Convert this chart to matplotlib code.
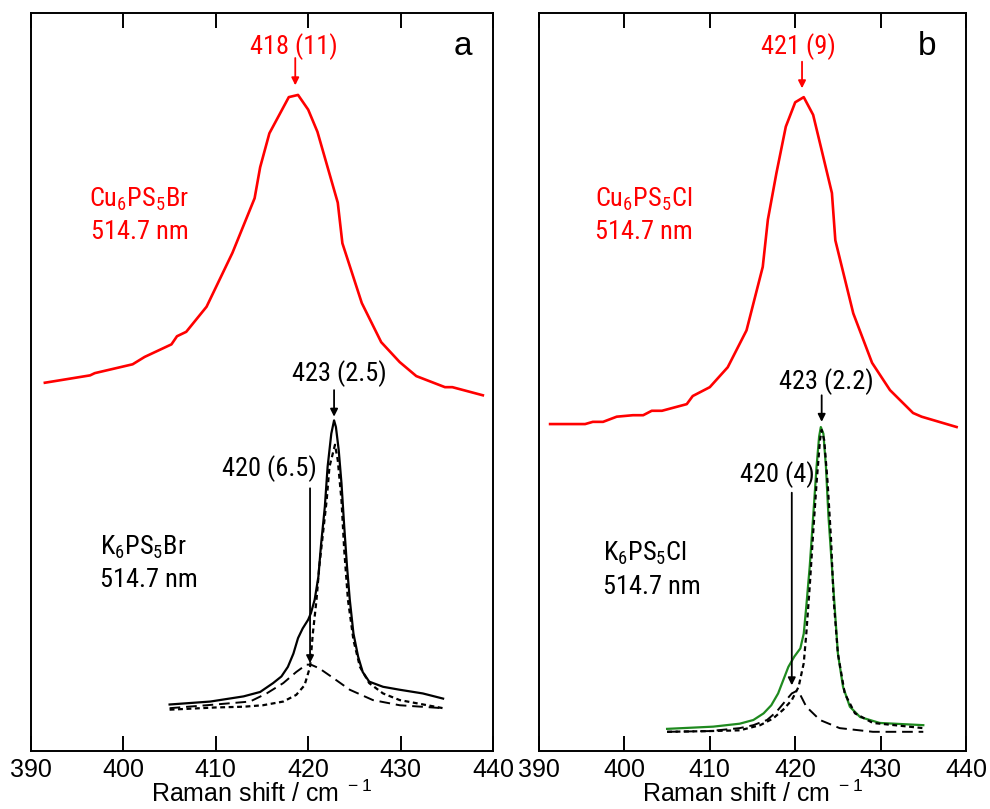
import numpy as np
import matplotlib
matplotlib.use("Agg")
import matplotlib.pyplot as plt
from matplotlib import font_manager

plt.rcParams['font.family'] = ['Liberation Sans', 'DejaVu Sans']
plt.rcParams['mathtext.default'] = 'regular'

# narrow face for the annotations if one is installed, else plain sans a bit smaller
installed = {f.name for f in font_manager.fontManager.ttflist}
narrow = ['Liberation Sans', 'DejaVu Sans']
fs = 17
for cand in ['Liberation Sans Narrow', 'Arial Narrow', 'Roboto Condensed', 'Open Sans Condensed']:
    if cand in installed:
        narrow = [cand, 'Liberation Sans', 'DejaVu Sans']
        fs = 19
        break

# ---- panel a : Cu6PS5Br (red) and K6PS5Br with two-band fit ----
cu_br_x = [391.5, 396.4, 396.9, 401.0, 402.3, 405.2, 405.8, 406.8, 409.0, 411.8, 414.2, 414.8, 415.8,
           417.9, 418.9, 420.0, 421.0, 423.2, 423.7, 425.8, 427.9, 429.9, 431.7, 434.8, 435.6, 438.9]
cu_br_y = [49.9, 50.9, 51.2, 52.4, 53.4, 55.1, 56.2, 56.8, 60.2, 67.5, 74.9, 79.1, 83.7,
           88.6, 88.9, 86.9, 83.9, 74.3, 68.8, 60.7, 55.4, 52.7, 50.8, 49.3, 49.3, 48.2]

k_br_x = [405.0, 409.4, 413.0, 414.8, 416.2, 417.1, 417.8, 418.4, 418.9, 419.4, 420.0, 420.3,
          420.7, 421.1, 421.4, 421.8, 422.1, 422.5, 422.8, 423.0, 423.3, 423.6, 423.9, 424.2,
          424.5, 424.9, 425.4, 425.9, 426.6, 428.1, 429.9, 432.4, 434.6]
k_br_y = [6.3, 6.7, 7.4, 8.0, 9.2, 10.1, 11.4, 13.2, 15.3, 16.6, 17.8, 18.7,
          20.5, 23.6, 28.1, 33.1, 38.5, 43.0, 44.8, 43.9, 40.8, 36.3, 30.4, 25.0,
          20.5, 15.9, 12.8, 10.7, 9.4, 8.7, 8.3, 7.8, 7.1]

k_br_423_x = [405.0, 410.0, 413.0, 415.1, 417.3, 418.7, 419.6, 420.2, 420.5, 420.9, 421.2, 421.6,
              422.0, 422.3, 422.9, 423.2, 423.6, 423.9, 424.3, 424.9, 425.6, 426.6, 428.1,
              429.9, 434.6]
k_br_423_y = [5.6, 5.9, 6.0, 6.2, 6.7, 7.6, 8.9, 11.4, 15.9, 20.5, 25.0, 29.5,
              34.0, 38.5, 41.5, 39.4, 34.0, 27.2, 20.5, 15.0, 11.4, 9.2, 7.8,
              6.9, 5.8]

k_br_420_x = [405.0, 409.0, 413.7, 415.5, 417.3, 418.7, 419.8, 420.3, 421.2, 422.7, 424.5,
              427.0, 429.9, 434.6]
k_br_420_y = [5.8, 6.2, 6.7, 7.8, 9.2, 10.7, 11.7, 11.7, 11.2, 9.9, 8.3,
              6.9, 6.2, 5.8]

# ---- panel b : Cu6PS5Cl (red) and K6PS5Cl (green) with two-band fit ----
cu_cl_x = [391.3, 395.4, 396.3, 397.5, 399.1, 401.0, 402.2, 403.2, 404.4, 407.3, 408.0, 410.0,
           412.1, 414.3, 416.2, 416.8, 417.8, 418.9, 420.0, 421.0, 422.1, 423.1, 424.3, 424.7,
           426.8, 429.0, 431.1, 433.8, 434.8, 438.9]
cu_cl_y = [44.3, 44.3, 44.6, 44.6, 45.3, 45.5, 45.5, 46.1, 46.1, 47.0, 48.1, 49.3,
           52.0, 57.0, 65.6, 72.0, 78.3, 84.6, 87.9, 88.6, 86.2, 81.4, 75.6, 69.2,
           59.3, 52.6, 48.9, 45.8, 45.3, 43.9]

k_cl_x = [405.0, 410.4, 413.5, 415.1, 416.3, 417.2, 418.0, 418.6, 419.2, 419.9, 420.6, 421.0,
          421.3, 421.7, 422.1, 422.5, 422.8, 423.0, 423.3, 423.6, 423.9, 424.3, 424.7, 425.0,
          425.6, 426.4, 427.6, 429.9, 435.0]
k_cl_y = [3.0, 3.3, 3.7, 4.2, 5.1, 6.2, 7.8, 9.6, 11.4, 12.8, 13.9, 15.9,
          19.6, 25.0, 31.7, 38.5, 42.6, 43.9, 43.0, 38.5, 31.7, 25.0, 18.2, 13.2,
          8.7, 6.0, 4.6, 3.8, 3.5]

k_cl_423_x = [405.0, 410.0, 413.5, 415.9, 417.4, 418.6, 419.6, 420.4, 421.0, 421.3, 421.7, 422.1,
              422.5, 422.9, 423.1, 423.4, 423.8, 424.2, 424.5, 425.0, 425.8, 427.0, 429.1,
              435.0]
k_cl_423_y = [2.6, 2.7, 2.8, 3.5, 4.4, 5.6, 6.9, 8.7, 11.9, 15.9, 22.3, 29.5,
              36.3, 42.1, 43.5, 42.1, 36.3, 28.6, 20.5, 13.2, 7.8, 5.1, 3.8,
              3.1]

k_cl_420_x = [405.0, 410.0, 413.5, 415.1, 416.7, 417.8, 418.8, 419.6, 420.1, 420.6, 421.3,
              422.9, 425.2, 429.1, 435.0]
k_cl_420_y = [2.6, 2.7, 3.1, 3.5, 4.2, 5.3, 6.7, 7.8, 8.1, 7.6, 6.0,
              4.2, 3.1, 2.6, 2.6]

fig = plt.figure(figsize=(9.9, 8.09), dpi=100)
ax_a = fig.add_axes([31/990, 58/809, 462/990, 738/809])
ax_b = fig.add_axes([539/990, 58/809, 427/990, 738/809])

dotted = (0, (2.2, 1.6))
dashed = (0, (5.5, 3.0))


def arrow(ax, x, y0, y1, color):
    ax.annotate('', xy=(x, y1), xytext=(x, y0),
                arrowprops=dict(arrowstyle='-|>', color=color, lw=1.3,
                                mutation_scale=11, shrinkA=0, shrinkB=0))


def style(ax):
    ax.set_xlim(390, 440)
    ax.set_ylim(0, 100)
    ax.set_xticks([390, 400, 410, 420, 430, 440])
    ax.set_yticks([])
    ax.tick_params(axis='x', direction='in', top=True, length=11, width=1.4,
                   labelsize=18, pad=5)
    for s in ax.spines.values():
        s.set_linewidth(1.4)
    ax.set_xlabel('Raman shift / cm$^{\\ -1}$', fontsize=18, labelpad=-1)


# panel a
ax_a.plot(cu_br_x, cu_br_y, color='red', lw=1.9)
ax_a.plot(k_br_x, k_br_y, color='black', lw=1.6)
ax_a.plot(k_br_423_x, k_br_423_y, color='black', lw=1.6, linestyle=dotted)
ax_a.plot(k_br_420_x, k_br_420_y, color='black', lw=1.4, linestyle=dashed)
style(ax_a)

ax_a.text(418.4, 95.4, '418 (11)', color='red', fontsize=fs, family=narrow, ha='center', va='center')
arrow(ax_a, 418.6, 93.9, 90.2, 'red')
ax_a.text(436.7, 95.4, 'a', fontsize=24, ha='center', va='center')
ax_a.text(396.3, 74.7, 'Cu$_6$PS$_5$Br', color='red', fontsize=fs, family=narrow, va='center')
ax_a.text(396.5, 70.3, '514.7 nm', color='red', fontsize=fs, family=narrow, va='center')
ax_a.text(423.4, 51.2, '423 (2.5)', fontsize=fs, family=narrow, ha='center', va='center')
arrow(ax_a, 422.8, 48.9, 45.3, 'black')
ax_a.text(415.8, 38.3, '420 (6.5)', fontsize=fs, family=narrow, ha='center', va='center')
arrow(ax_a, 420.2, 35.6, 11.9, 'black')
ax_a.text(397.5, 27.6, 'K$_6$PS$_5$Br', fontsize=fs, family=narrow, va='center')
ax_a.text(397.5, 23.2, '514.7 nm', fontsize=fs, family=narrow, va='center')

# panel b
ax_b.plot(cu_cl_x, cu_cl_y, color='red', lw=1.9)
ax_b.plot(k_cl_x, k_cl_y, color='#1f8a1f', lw=1.6)
ax_b.plot(k_cl_423_x, k_cl_423_y, color='black', lw=1.6, linestyle=dotted)
ax_b.plot(k_cl_420_x, k_cl_420_y, color='black', lw=1.4, linestyle=dashed)
style(ax_b)

ax_b.text(420.4, 95.4, '421 (9)', color='red', fontsize=fs, family=narrow, ha='center', va='center')
arrow(ax_b, 420.8, 93.4, 89.8, 'red')
ax_b.text(435.4, 95.4, 'b', fontsize=24, ha='center', va='center')
ax_b.text(396.6, 74.7, 'Cu$_6$PS$_5$Cl', color='red', fontsize=fs, family=narrow, va='center')
ax_b.text(396.6, 70.3, '514.7 nm', color='red', fontsize=fs, family=narrow, va='center')
ax_b.text(423.7, 50.0, '423 (2.2)', fontsize=fs, family=narrow, ha='center', va='center')
arrow(ax_b, 423.1, 48.2, 44.6, 'black')
ax_b.text(417.9, 37.4, '420 (4)', fontsize=fs, family=narrow, ha='center', va='center')
arrow(ax_b, 419.6, 35.0, 8.9, 'black')
ax_b.text(397.5, 26.8, 'K$_6$PS$_5$Cl', fontsize=fs, family=narrow, va='center')
ax_b.text(397.5, 22.2, '514.7 nm', fontsize=fs, family=narrow, va='center')

fig.savefig('out.png', dpi=100)
